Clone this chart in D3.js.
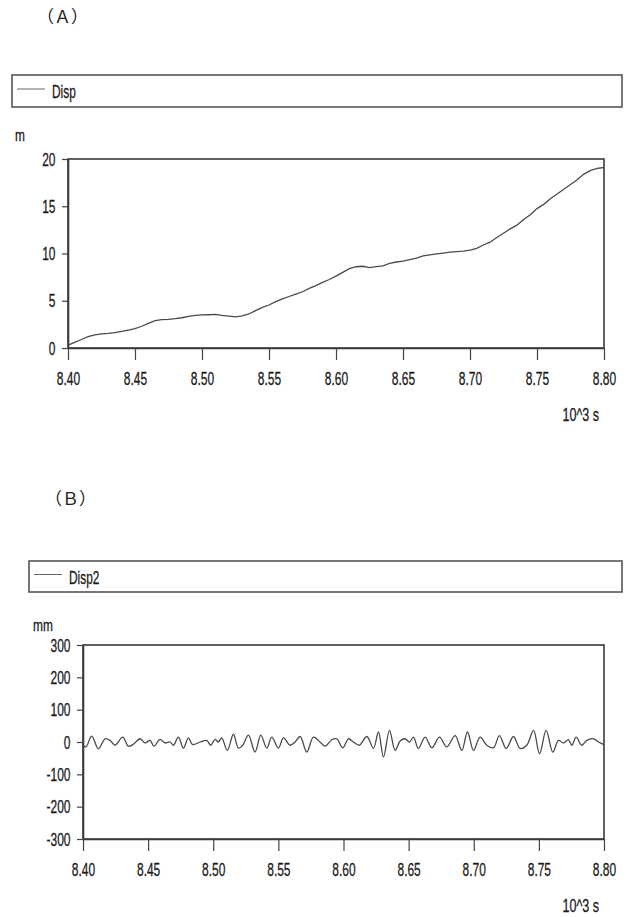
<!DOCTYPE html>
<html><head><meta charset="utf-8">
<script src="https://cdn.jsdelivr.net/npm/d3@7/dist/d3.min.js"></script>
<style>
html,body{margin:0;padding:0;background:#fff;}
svg{display:block;}
</style></head>
<body>
<svg id="c" width="631" height="917"></svg>
<script>
// ---- Data ----
const xTicks = [8.40, 8.45, 8.50, 8.55, 8.60, 8.65, 8.70, 8.75, 8.80];
const xTickLabels = ["8.40","8.45","8.50","8.55","8.60","8.65","8.70","8.75","8.80"];
const yTicksA = [0, 5, 10, 15, 20];
const yTicksB = [-300, -200, -100, 0, 100, 200, 300];

// Chart A: Disp (m) vs time (10^3 s)
const timeA = [8.400,8.405,8.410,8.415,8.420,8.425,8.430,8.435,8.440,8.445,8.450,8.455,8.460,8.465,8.470,8.475,8.480,8.485,8.490,8.495,
  8.500,8.505,8.510,8.515,8.520,8.525,8.530,8.535,8.540,8.545,8.550,8.555,8.560,8.565,8.570,8.575,8.580,8.585,8.590,8.595,
  8.600,8.605,8.610,8.615,8.620,8.625,8.630,8.635,8.640,8.645,8.650,8.655,8.660,8.665,8.670,8.675,8.680,8.685,8.690,8.695,
  8.700,8.705,8.710,8.715,8.720,8.725,8.730,8.735,8.740,8.745,8.750,8.755,8.760,8.765,8.770,8.775,8.780,8.785,8.790,8.795,8.800];
const dispA = [0.3,0.6,0.9,1.2,1.4,1.5,1.55,1.62,1.75,1.9,2.05,2.3,2.6,2.9,3.0,3.02,3.1,3.2,3.35,3.45,
  3.5,3.52,3.55,3.45,3.38,3.3,3.4,3.6,3.95,4.3,4.55,4.9,5.2,5.45,5.7,5.95,6.3,6.6,6.95,7.25,
  7.6,8.0,8.4,8.6,8.65,8.5,8.6,8.7,8.95,9.1,9.2,9.35,9.5,9.75,9.85,9.95,10.05,10.15,10.2,10.25,
  10.35,10.55,10.9,11.2,11.7,12.15,12.6,13.0,13.6,14.1,14.75,15.2,15.8,16.3,16.8,17.3,17.8,18.4,18.8,19.0,19.1];

// Chart B: Disp2 (mm) vs time (10^3 s)
const timeB = [8.4000,8.4023,8.4067,8.4118,8.4169,8.4207,8.4246,8.4305,8.4348,8.4387,8.4438,8.4476,8.4515,8.4545,8.4591,8.4630,8.4668,8.4694,8.4732,8.4771,
  8.4809,8.4842,8.4899,8.4950,8.4981,8.5014,8.5039,8.5065,8.5108,8.5155,8.5193,8.5226,8.5270,8.5321,8.5365,8.5411,8.5449,8.5500,8.5539,8.5590,
  8.5628,8.5667,8.5718,8.5769,8.5820,8.5859,8.5910,8.5948,8.5994,8.6038,8.6076,8.6122,8.6179,8.6230,8.6268,8.6307,8.6353,8.6396,8.6435,8.6473,
  8.6506,8.6537,8.6575,8.6627,8.6678,8.6737,8.6793,8.6857,8.6908,8.6952,8.6998,8.7049,8.7100,8.7151,8.7197,8.7249,8.7305,8.7356,8.7407,8.7459,
  8.7505,8.7556,8.7607,8.7651,8.7689,8.7727,8.7753,8.7786,8.7829,8.7868,8.7919,8.7958,8.8000];
const dispB = [-10,-15,18,-21,10,5,-10,15,-13,-7,10,-3,5,-13,8,-3,0,-10,15,-19,
  13,-8,0,5,-10,8,0,13,-26,24,-19,-10,21,-31,21,-19,15,-19,13,-10,
  0,17,-31,15,0,-13,7,10,-18,10,0,-10,17,-20,31,-46,36,-26,3,10,
  0,15,-20,15,-18,15,-15,20,-26,31,-26,15,-10,-18,20,-20,17,-20,-10,36,
  -36,36,-31,5,-3,7,-10,15,-10,5,10,0,-8];

// ---- Drawing ----
const svg = d3.select("#c");
const FONT = "'Liberation Sans',Arial,sans-serif";
const CJK = "'Noto Sans CJK JP','Noto Sans CJK SC',sans-serif";
const SX = 0.63;

function narrowText(x, y, txt, size, anchor, sx) {
  svg.append("text")
    .attr("transform", `translate(${x},${y}) scale(${sx||SX},1)`)
    .attr("font-family", FONT).attr("font-size", size)
    .attr("text-anchor", anchor || "start")
    .attr("fill", "#1a1a1a").attr("stroke", "#1a1a1a").attr("stroke-width", 0.3)
    .text(txt);
}

function panel(cfg) {
  // title
  svg.append("text").attr("x", cfg.titleX).attr("y", cfg.titleY)
    .attr("font-family", CJK).attr("font-size", 17).attr("fill", "#222")
    .attr("dominant-baseline", "central").text(cfg.title);
  // legend box
  svg.append("rect").attr("x", cfg.legX).attr("y", cfg.legY)
    .attr("width", 622 - cfg.legX).attr("height", cfg.legH)
    .attr("fill", "none").attr("stroke", "#555").attr("stroke-width", 1.6);
  const ly = cfg.legY + cfg.legH / 2 - 2;
  svg.append("line").attr("x1", cfg.legX + 5).attr("x2", cfg.legX + 33)
    .attr("y1", ly).attr("y2", ly).attr("stroke", "#666").attr("stroke-width", 1);
  narrowText(cfg.legX + 40, cfg.legY + cfg.legH / 2 + 7, cfg.series, 18, "start", 0.66);

  const x = d3.scaleLinear().domain([8.40, 8.80]).range([cfg.left, 604]);
  const y = d3.scaleLinear().domain(cfg.yDomain).range([cfg.bottom, cfg.top]);

  // unit label
  narrowText(cfg.unitX, cfg.unitY, cfg.unit, 17, "start", 0.7);

  // frame
  svg.append("rect").attr("x", cfg.left).attr("y", cfg.top)
    .attr("width", 604 - cfg.left).attr("height", cfg.bottom - cfg.top)
    .attr("fill", "none").attr("stroke", "#3a3a3a").attr("stroke-width", 1.6);

  // x axis
  const gx = svg.append("g").attr("transform", `translate(0,${cfg.bottom})`)
    .call(d3.axisBottom(x).tickValues(xTicks).tickFormat((d, i) => xTickLabels[i])
      .tickSize(12).tickSizeOuter(0).tickPadding(12));
  gx.select(".domain").attr("stroke", "#3a3a3a").attr("stroke-width", 1.6);
  gx.selectAll(".tick line").attr("stroke", "#444").attr("stroke-width", 1.2);
  gx.selectAll(".tick text").attr("font-family", FONT).attr("font-size", 19)
    .attr("fill", "#1a1a1a").attr("stroke", "#1a1a1a").attr("stroke-width", 0.3)
    .attr("transform", `scale(${SX},1)`);

  // y axis
  const gy = svg.append("g").attr("transform", `translate(${cfg.left},0)`)
    .call(d3.axisLeft(y).tickValues(cfg.yTicks).tickFormat(d => String(d))
      .tickSize(6).tickSizeOuter(0).tickPadding(6));
  gy.select(".domain").attr("stroke", "#3a3a3a").attr("stroke-width", 1.6);
  gy.selectAll(".tick line").attr("stroke", "#444").attr("stroke-width", 1.2);
  gy.selectAll(".tick text").attr("font-family", FONT).attr("font-size", 19)
    .attr("fill", "#1a1a1a").attr("stroke", "#1a1a1a").attr("stroke-width", 0.3)
    .attr("x", -(12.5) / SX).attr("transform", `scale(${SX},1)`);

  // data line
  const pts = cfg.t.map((t, i) => [t, cfg.v[i]]);
  svg.append("path").datum(pts)
    .attr("fill", "none").attr("stroke", "#4a4a4a").attr("stroke-width", 1.3)
    .attr("d", d3.line().x(d => x(d[0])).y(d => y(d[1])).curve(cfg.curve));

  // x unit
  narrowText(599, cfg.bottom + 73, "10^3 s", 19, "end", 0.66);
}

panel({
  title: "（Ａ）", titleX: 37, titleY: 15,
  legX: 12, legY: 75, legH: 32, series: "Disp",
  unit: "m", unitX: 15, unitY: 141,
  left: 68, top: 159, bottom: 348, yDomain: [0, 20], yTicks: yTicksA,
  t: timeA, v: dispA, curve: d3.curveLinear
});
panel({
  title: "（Ｂ）", titleX: 45, titleY: 497,
  legX: 29, legY: 561, legH: 31, series: "Disp2",
  unit: "mm", unitX: 33, unitY: 631,
  left: 83, top: 645, bottom: 839, yDomain: [-300, 300], yTicks: yTicksB,
  t: timeB, v: dispB, curve: d3.curveCatmullRom.alpha(0.5)
});
</script>
</body></html>
